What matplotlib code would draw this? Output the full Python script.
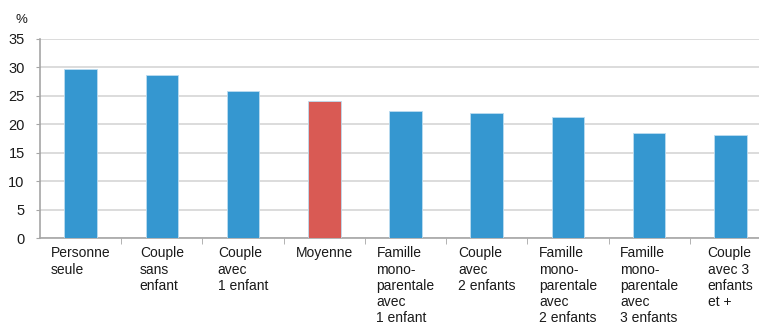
import matplotlib.pyplot as plt
from matplotlib.ticker import MultipleLocator, FixedLocator

# Taux par type de ménage (%)
categories = [
    "Personne\nseule",
    "Couple\nsans\nenfant",
    "Couple\navec\n1 enfant",
    "Moyenne",
    "Famille\nmono-\nparentale\navec\n1 enfant",
    "Couple\navec\n2 enfants",
    "Famille\nmono-\nparentale\navec\n2 enfants",
    "Famille\nmono-\nparentale\navec\n3 enfants",
    "Couple\navec 3\nenfants\net +",
]
values = [29.7, 28.6, 25.9, 24.1, 22.3, 22.0, 21.3, 18.5, 18.2]
highlight = "Moyenne"

BLUE = "#3597d0"
RED = "#d95a54"
GRID = "#d9d9d9"
AXIS = "#a6a6a6"

plt.rcParams["font.family"] = ["Liberation Sans Narrow", "Liberation Sans", "DejaVu Sans"]


def main():
    fig = plt.figure(figsize=(7.59, 3.29), dpi=100)
    ax = fig.add_axes([40 / 759, 1 - 238 / 329, 731 / 759, 199 / 329])

    colors = [RED if c == highlight else BLUE for c in categories]
    x = range(len(categories))
    ax.bar(x, values, width=0.4, color=colors, edgecolor="#bcdcf0", linewidth=0.6, zorder=3)

    ax.set_xlim(-0.5, len(categories) - 0.5)
    ax.set_ylim(0, 35)
    ax.yaxis.set_major_locator(MultipleLocator(5))
    ax.grid(axis="y", color=GRID, linewidth=1.3, zorder=0)

    for side in ["top", "right"]:
        ax.spines[side].set_visible(False)
    ax.spines["left"].set_color(AXIS)
    ax.spines["bottom"].set_color(AXIS)
    ax.spines["left"].set_linewidth(1.2)
    ax.spines["bottom"].set_linewidth(1.2)

    ax.set_xticks(list(x))
    ax.set_xticklabels(categories, fontsize=10, color="#1a1a1a", va="top",
                       ha="center", multialignment="left", linespacing=1.2)
    ax.tick_params(axis="x", which="major", length=0, pad=6)
    ax.xaxis.set_minor_locator(FixedLocator([i + 0.5 for i in range(len(categories))]))
    ax.tick_params(axis="x", which="minor", length=4, color=AXIS)
    ax.tick_params(axis="y", length=3, color=AXIS, labelsize=10.5, labelcolor="#1a1a1a", pad=8)

    fig.text(15 / 759, 1 - 20 / 329, "%", fontsize=9.5, color="#1a1a1a", va="center")

    fig.savefig("out.png", dpi=100)


if __name__ == "__main__":
    main()
